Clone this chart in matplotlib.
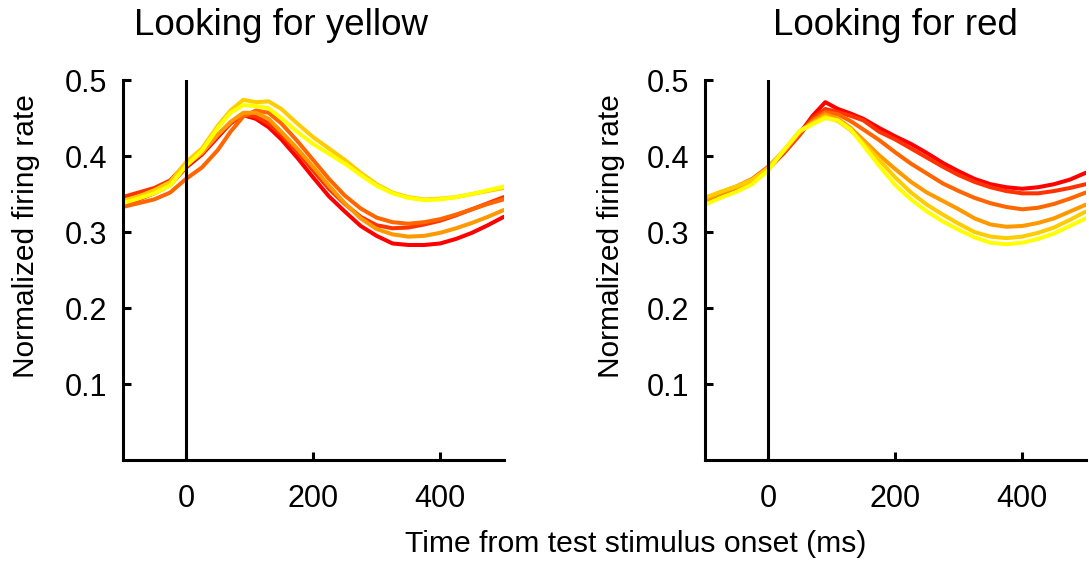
import matplotlib
matplotlib.use("Agg")
import matplotlib.pyplot as plt

plt.rcParams['font.family'] = ['Liberation Sans', 'DejaVu Sans']

# time axis (ms from test stimulus onset)
t = [-100, -75, -50, -25, 0, 25, 50, 70, 90, 110, 130, 150, 175, 200, 225,
     250, 275, 300, 325, 350, 375, 400, 425, 450, 475, 500]

colors = ['#FF0000', '#FF3300', '#FF6600', '#FF9900', '#FFCC00', '#FFFF00']

# Looking for yellow
yel_c0 = [0.336, 0.343, 0.351, 0.362, 0.385, 0.402, 0.425, 0.443, 0.454, 0.449, 0.438, 0.422, 0.398, 0.372, 0.347,
          0.327, 0.308, 0.295, 0.285, 0.283, 0.283, 0.285, 0.291, 0.299, 0.309, 0.320]
yel_c1 = [0.346, 0.352, 0.358, 0.368, 0.390, 0.405, 0.428, 0.443, 0.455, 0.452, 0.443, 0.428, 0.406, 0.381, 0.357,
          0.337, 0.320, 0.309, 0.305, 0.306, 0.310, 0.315, 0.322, 0.330, 0.338, 0.346]
yel_c2 = [0.333, 0.338, 0.343, 0.352, 0.370, 0.385, 0.408, 0.432, 0.452, 0.460, 0.457, 0.443, 0.420, 0.395, 0.370,
          0.348, 0.331, 0.319, 0.313, 0.311, 0.313, 0.317, 0.323, 0.330, 0.337, 0.343]
yel_c3 = [0.340, 0.346, 0.354, 0.364, 0.388, 0.404, 0.428, 0.445, 0.457, 0.457, 0.449, 0.432, 0.410, 0.386, 0.361,
          0.338, 0.318, 0.304, 0.297, 0.294, 0.295, 0.299, 0.305, 0.312, 0.320, 0.329]
yel_c4 = [0.341, 0.347, 0.355, 0.366, 0.392, 0.410, 0.440, 0.460, 0.474, 0.471, 0.472, 0.462, 0.443, 0.425, 0.410,
          0.395, 0.378, 0.363, 0.352, 0.346, 0.343, 0.344, 0.346, 0.350, 0.354, 0.358]
yel_c5 = [0.338, 0.344, 0.351, 0.361, 0.387, 0.407, 0.437, 0.457, 0.467, 0.466, 0.463, 0.450, 0.432, 0.416, 0.403,
          0.390, 0.375, 0.361, 0.351, 0.345, 0.342, 0.343, 0.346, 0.350, 0.355, 0.360]

# Looking for red
red_c0 = [0.340, 0.349, 0.357, 0.367, 0.384, 0.405, 0.430, 0.453, 0.471, 0.462, 0.456, 0.449, 0.437, 0.426, 0.416,
          0.404, 0.391, 0.380, 0.370, 0.363, 0.359, 0.357, 0.359, 0.363, 0.369, 0.378]
red_c1 = [0.338, 0.347, 0.356, 0.366, 0.383, 0.404, 0.428, 0.450, 0.462, 0.458, 0.453, 0.447, 0.432, 0.422, 0.410,
          0.398, 0.386, 0.375, 0.366, 0.359, 0.354, 0.351, 0.351, 0.354, 0.358, 0.363]
red_c2 = [0.344, 0.352, 0.360, 0.370, 0.386, 0.406, 0.431, 0.447, 0.458, 0.455, 0.446, 0.435, 0.421, 0.405, 0.390,
          0.377, 0.364, 0.354, 0.345, 0.338, 0.333, 0.330, 0.332, 0.337, 0.344, 0.352]
red_c3 = [0.342, 0.351, 0.359, 0.368, 0.385, 0.407, 0.432, 0.445, 0.455, 0.449, 0.437, 0.421, 0.401, 0.383, 0.366,
          0.352, 0.341, 0.330, 0.318, 0.310, 0.307, 0.308, 0.312, 0.318, 0.327, 0.336]
red_c4 = [0.345, 0.353, 0.360, 0.369, 0.384, 0.408, 0.433, 0.443, 0.452, 0.446, 0.434, 0.417, 0.395, 0.372, 0.352,
          0.336, 0.323, 0.311, 0.300, 0.294, 0.292, 0.294, 0.299, 0.306, 0.316, 0.327]
red_c5 = [0.336, 0.345, 0.353, 0.363, 0.381, 0.408, 0.433, 0.442, 0.450, 0.447, 0.435, 0.414, 0.387, 0.362, 0.343,
          0.327, 0.314, 0.303, 0.293, 0.286, 0.284, 0.286, 0.291, 0.298, 0.308, 0.318]

panels = [
    ("Looking for yellow", [yel_c0, yel_c1, yel_c2, yel_c3, yel_c4, yel_c5], 0.417, -0.217),
    ("Looking for red", [red_c0, red_c1, red_c2, red_c3, red_c4, red_c5], 0.50, -0.209),
]

xticks = [0, 200, 400]
yticks = [0.1, 0.2, 0.3, 0.4, 0.5]
ytick_labels = ['0.1', '0.2', '0.3', '0.4', '0.5']

fig = plt.figure(figsize=(10.89, 5.67), dpi=100)
lefts = [0.1125, 0.647]
for (title, series, tx, lx), left in zip(panels, lefts):
    ax = fig.add_axes([left, 0.1887, 0.35, 0.670])
    for vals, c in zip(series, colors):
        ax.plot(t, vals, color=c, lw=2.9, solid_capstyle='round')
    ax.plot([0, 0], [0, 0.5], color='black', lw=2.2, zorder=5)
    ax.set_xlim(-100, 500)
    ax.set_ylim(0, 0.5)
    for s in ['top', 'right']:
        ax.spines[s].set_visible(False)
    for s in ['left', 'bottom']:
        ax.spines[s].set_linewidth(2.2)
    ax.set_xticks(xticks)
    ax.set_xticklabels([str(v) for v in xticks])
    ax.set_yticks(yticks)
    ax.set_yticklabels(ytick_labels)
    ax.tick_params(axis='both', direction='in', length=6, width=2.2, labelsize=22)
    ax.tick_params(axis='y', pad=11)
    ax.tick_params(axis='x', pad=17)
    ax.set_ylabel("Normalized firing rate", fontsize=21.5)
    ax.yaxis.set_label_coords(lx, 0.59)
    ax.text(tx, 1.12, title, transform=ax.transAxes, ha='center', va='baseline', fontsize=26.5)

fig.text(636 / 1089, 0.040, "Time from test stimulus onset (ms)", ha='center', va='center', fontsize=21.7)
fig.savefig("out.png", dpi=100)
